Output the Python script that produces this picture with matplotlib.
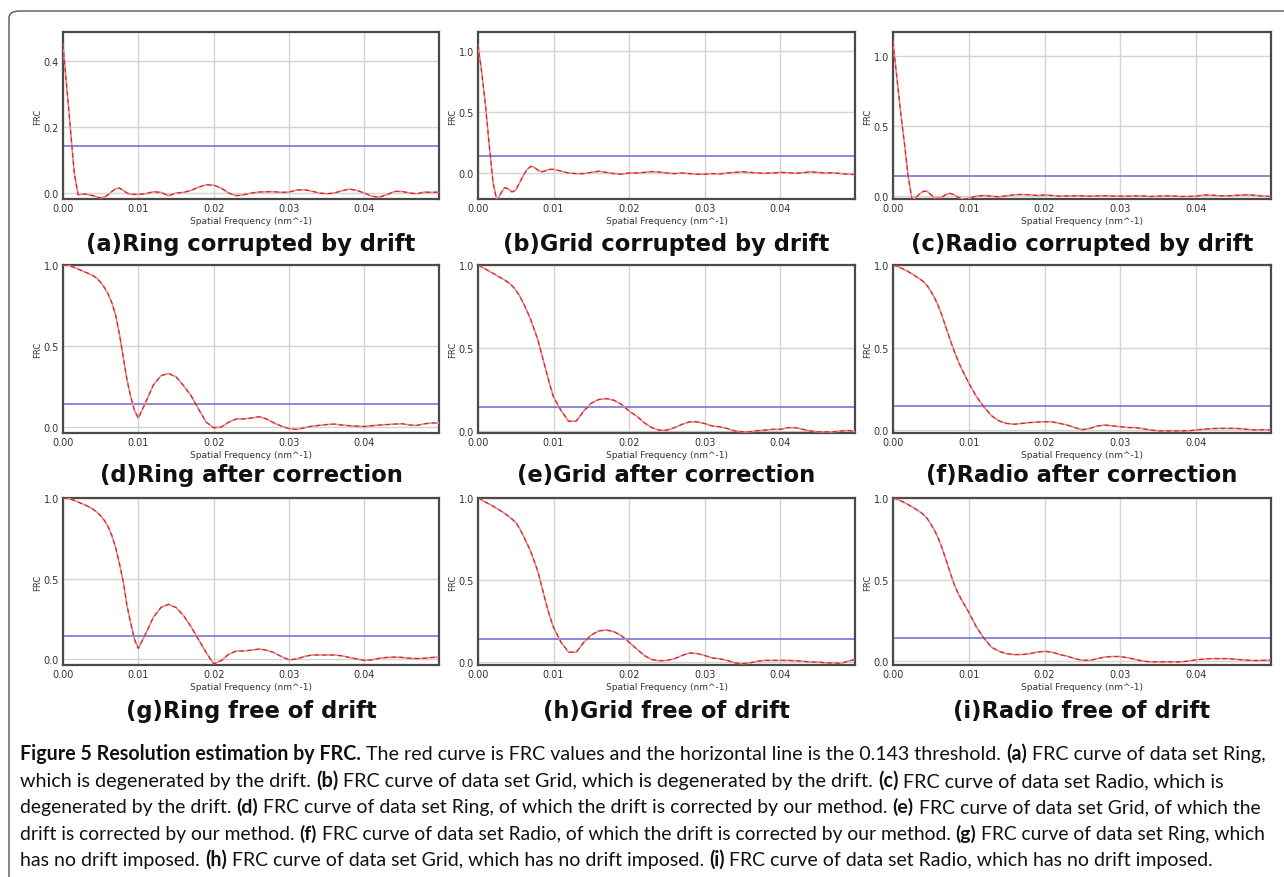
import numpy as np
import matplotlib
matplotlib.use("Agg")
import matplotlib.pyplot as plt
from matplotlib.patches import FancyBboxPatch

# sampling of the spatial frequency axis (nm^-1): fine steps below 0.01
freq = np.r_[np.arange(0, 0.01, 0.0005), np.arange(0.010, 0.0495, 0.001), 0.0499]

threshold = 0.143

ring_drift = [0.45, 0.32, 0.19, 0.06, -0.005, -0.004, -0.003, -0.006, -0.008, -0.012,
              -0.015, -0.012, -0.005, 0.005, 0.013, 0.015, 0.008, 0.0, -0.004, -0.004,
              -0.004, -0.002, 0.004, 0.002, -0.008, 0.0, 0.002, 0.008, 0.018, 0.025,
              0.024, 0.015, 0.0, -0.008, -0.005, 0.0, 0.003, 0.004, 0.004, 0.002,
              0.003, 0.009, 0.01, 0.006, 0.0, -0.002, 0.0, 0.007, 0.012, 0.008,
              0.0, -0.01, -0.012, -0.005, 0.005, 0.005, 0.0, -0.002, 0.003, 0.002,
              0.003]
grid_drift = [1.05, 0.82, 0.55, 0.22, -0.08, -0.225, -0.17, -0.12, -0.13, -0.155,
              -0.14, -0.08, -0.02, 0.03, 0.055, 0.045, 0.02, 0.01, 0.02, 0.03,
              0.03, 0.015, 0.0, -0.005, -0.005, 0.005, 0.015, 0.005, -0.005, -0.01,
              0.0, 0.0, 0.005, 0.012, 0.008, 0.0, -0.005, 0.0, -0.005, -0.01,
              -0.01, -0.005, -0.008, 0.0, 0.005, 0.01, 0.005, 0.0, -0.002, 0.0,
              0.005, 0.003, -0.002, 0.003, 0.01, 0.005, 0.0, 0.002, -0.005, -0.01,
              -0.012]
radio_drift = [1.10, 0.85, 0.60, 0.38, 0.14, -0.02, -0.01, 0.015, 0.035, 0.035,
               0.01, -0.015, -0.015, -0.005, 0.012, 0.02, 0.012, -0.005, -0.018, -0.02,
               -0.015, 0.0, 0.005, 0.0, -0.005, 0.003, 0.01, 0.012, 0.01, 0.005,
               0.008, 0.005, 0.0, 0.002, 0.003, 0.002, 0.0, 0.002, 0.003, 0.001,
               0.0, 0.0, 0.002, 0.001, -0.002, 0.0, 0.002, 0.001, -0.002, -0.002,
               0.0, 0.008, 0.008, 0.003, 0.002, 0.005, 0.008, 0.01, 0.005, 0.0,
               -0.002]
ring_corr = [1.0, 0.998, 0.993, 0.985, 0.975, 0.965, 0.955, 0.945, 0.934, 0.918,
             0.893, 0.86, 0.82, 0.765, 0.687, 0.57, 0.43, 0.29, 0.185, 0.10,
             0.055, 0.155, 0.26, 0.317, 0.33, 0.31, 0.255, 0.193, 0.11, 0.03,
             -0.005, 0.0, 0.03, 0.05, 0.05, 0.055, 0.064, 0.05, 0.025, 0.005,
             -0.01, -0.015, -0.005, 0.005, 0.01, 0.015, 0.018, 0.012, 0.008, 0.005,
             0.003, 0.008, 0.012, 0.015, 0.018, 0.02, 0.012, 0.01, 0.02, 0.025,
             0.025]
grid_corr = [1.0, 0.988, 0.975, 0.962, 0.95, 0.936, 0.923, 0.91, 0.895, 0.875,
             0.85, 0.815, 0.77, 0.722, 0.668, 0.605, 0.537, 0.45, 0.365, 0.28,
             0.204, 0.123, 0.058, 0.06, 0.12, 0.168, 0.19, 0.195, 0.185, 0.16,
             0.12, 0.09, 0.05, 0.02, 0.005, 0.005, 0.02, 0.04, 0.055, 0.055,
             0.045, 0.03, 0.025, 0.015, 0.0, -0.005, -0.005, 0.002, 0.005, 0.01,
             0.01, 0.02, 0.02, 0.01, 0.0, -0.005, -0.005, -0.005, 0.0, 0.003,
             -0.003]
radio_corr = [1.0, 0.992, 0.983, 0.972, 0.96, 0.946, 0.932, 0.917, 0.90, 0.875,
              0.84, 0.8, 0.75, 0.69, 0.62, 0.553, 0.487, 0.43, 0.376, 0.33,
              0.285, 0.204, 0.14, 0.087, 0.055, 0.04, 0.035, 0.04, 0.045, 0.048,
              0.05, 0.05, 0.04, 0.03, 0.015, 0.002, 0.01, 0.025, 0.03, 0.025,
              0.02, 0.015, 0.015, 0.008, 0.0, -0.005, -0.005, -0.005, -0.005, -0.005,
              0.0, 0.005, 0.008, 0.01, 0.01, 0.01, 0.008, 0.003, 0.0, 0.002,
              0.0]
ring_free = [1.0, 0.998, 0.993, 0.985, 0.975, 0.965, 0.955, 0.944, 0.93, 0.912,
             0.89, 0.86, 0.82, 0.765, 0.69, 0.59, 0.48, 0.33, 0.22, 0.12,
             0.066, 0.16, 0.26, 0.32, 0.34, 0.32, 0.27, 0.2, 0.12, 0.04,
             -0.03, -0.01, 0.03, 0.05, 0.05, 0.055, 0.062, 0.055, 0.04, 0.015,
             -0.005, 0.0, 0.015, 0.025, 0.025, 0.025, 0.025, 0.02, 0.01, 0.0,
             -0.008, -0.005, 0.005, 0.01, 0.012, 0.01, 0.005, 0.003, 0.005, 0.01,
             0.012]
grid_free = [1.0, 0.988, 0.975, 0.962, 0.95, 0.936, 0.922, 0.907, 0.89, 0.872,
             0.85, 0.815, 0.77, 0.722, 0.67, 0.608, 0.54, 0.45, 0.36, 0.28,
             0.21, 0.12, 0.06, 0.06, 0.12, 0.165, 0.19, 0.195, 0.185, 0.16,
             0.12, 0.08, 0.04, 0.015, 0.008, 0.01, 0.02, 0.04, 0.055, 0.052,
             0.04, 0.025, 0.02, 0.01, -0.005, -0.01, -0.005, 0.005, 0.01, 0.01,
             0.01, 0.01, 0.008, 0.005, 0.0, 0.0, -0.005, -0.005, -0.008, 0.005,
             0.015]
radio_free = [1.0, 0.992, 0.983, 0.972, 0.96, 0.946, 0.932, 0.917, 0.90, 0.875,
              0.84, 0.8, 0.75, 0.69, 0.62, 0.55, 0.48, 0.425, 0.38, 0.34,
              0.3, 0.21, 0.14, 0.085, 0.06, 0.045, 0.04, 0.04, 0.045, 0.055,
              0.06, 0.055, 0.04, 0.03, 0.015, 0.005, 0.005, 0.015, 0.025, 0.028,
              0.028, 0.02, 0.01, 0.0, -0.005, -0.005, -0.005, -0.005, -0.005, 0.0,
              0.008, 0.012, 0.015, 0.015, 0.015, 0.012, 0.008, 0.005, 0.003, 0.005,
              0.005]

curves = [ring_drift, grid_drift, radio_drift,
          ring_corr, grid_corr, radio_corr,
          ring_free, grid_free, radio_free]
titles = ["(a)Ring corrupted by drift", "(b)Grid corrupted by drift", "(c)Radio corrupted by drift",
          "(d)Ring after correction", "(e)Grid after correction", "(f)Radio after correction",
          "(g)Ring free of drift", "(h)Grid free of drift", "(i)Radio free of drift"]
ylims = [(-0.018, 0.488), (-0.213, 1.156), (-0.02, 1.17),
         (-0.037, 1.0), (-0.012, 1.0), (-0.018, 1.0),
         (-0.037, 1.0), (-0.018, 1.0), (-0.024, 1.0)]
yticks = [[0.0, 0.2, 0.4], [0.0, 0.5, 1.0], [0.0, 0.5, 1.0],
          [0.0, 0.5, 1.0], [0.0, 0.5, 1.0], [0.0, 0.5, 1.0],
          [0.0, 0.5, 1.0], [0.0, 0.5, 1.0], [0.0, 0.5, 1.0]]
xticks = [0.0, 0.01, 0.02, 0.03, 0.04]

caption_lines = [
    [("Figure 5 Resolution estimation by FRC.", True),
     ("The red curve is FRC values and the horizontal line is the 0.143 threshold.", False),
     ("(a)", True), ("FRC curve of data set Ring,", False)],
    [("which is degenerated by the drift.", False), ("(b)", True),
     ("FRC curve of data set Grid, which is degenerated by the drift.", False),
     ("(c)", True), ("FRC curve of data set Radio, which is", False)],
    [("degenerated by the drift.", False), ("(d)", True),
     ("FRC curve of data set Ring, of which the drift is corrected by our method.", False),
     ("(e)", True), ("FRC curve of data set Grid, of which the", False)],
    [("drift is corrected by our method.", False), ("(f)", True),
     ("FRC curve of data set Radio, of which the drift is corrected by our method.", False),
     ("(g)", True), ("FRC curve of data set Ring, which", False)],
    [("has no drift imposed.", False), ("(h)", True),
     ("FRC curve of data set Grid, which has no drift imposed.", False),
     ("(i)", True), ("FRC curve of data set Radio, which has no drift imposed.", False)],
]
# right end of each caption line in the reference (px), last line is ragged
caption_ends = [1265, 1227, 1262, 1265, None]

W, H = 1284, 878
fig = plt.figure(figsize=(W / 100, H / 100), dpi=100)
fig.patch.set_facecolor("white")

# outer rounded frame (open towards bottom/right like the cropped page)
frame = FancyBboxPatch((9 / W, -0.05), 1.2, 1 - 12 / H + 0.05,
                       boxstyle="round,pad=0,rounding_size=0.008",
                       transform=fig.transFigure, fill=False,
                       edgecolor="#555555", lw=1.0, clip_on=False)
fig.patches.append(frame)

col_left = [63, 478, 893]
col_right = [439, 855, 1271]
row_top = [33, 266, 499]
row_bottom = [200, 434, 666]
title_y = [245, 476, 712]

for i, y in enumerate(curves):
    r, c = divmod(i, 3)
    l, rt = col_left[c], col_right[c]
    t, b = row_top[r], row_bottom[r]
    ax = fig.add_axes([l / W, 1 - b / H, (rt - l) / W, (b - t) / H])
    ax.plot(freq, y, color="#ec8a8a", lw=1.2, zorder=3)
    ax.plot(freq, y, color="#c8262b", lw=0.8, dashes=(4, 3), zorder=4)
    ax.axhline(threshold, color="#6a6ad0", lw=1.1, zorder=2)
    ax.set_xlim(0, 0.0499)
    ax.set_ylim(*ylims[i])
    ax.set_xticks(xticks)
    ax.set_xticklabels(["%.2f" % v for v in xticks])
    ax.set_yticks(yticks[i])
    ax.set_yticklabels(["%.1f" % v for v in yticks[i]])
    ax.grid(True, color="#d4d4d4", lw=1.0, zorder=0)
    ax.tick_params(length=0, labelsize=7, colors="#333333", pad=3)
    for s in ax.spines.values():
        s.set_color("#4a4a4a")
        s.set_linewidth(1.6)
    ax.set_xlabel("Spatial Frequency (nm^-1)", fontsize=6.5, color="#333333", labelpad=2)
    ax.set_ylabel("FRC", fontsize=6, color="#333333", labelpad=1)
    fig.text((l + rt) / 2 / W, 1 - title_y[r] / H, titles[i], ha="center", va="center",
             fontsize=16.3, fontweight="bold", family="DejaVu Sans", color="#111111")

# caption with mixed bold / regular runs
renderer = fig.canvas.get_renderer()
cap_font = ["Lato", "DejaVu Sans"]
x_start = 20.0


def text_width(s, size, bold):
    t = fig.text(0, 0, s, fontsize=size, family=cap_font,
                 fontweight="bold" if bold else "normal")
    w = t.get_window_extent(renderer).width
    t.remove()
    return w


def line_width(line, size):
    gap = text_width("x x", size, False) - text_width("xx", size, False)
    return sum(text_width(s, size, b) for s, b in line) + gap * (len(line) - 1)


base = 10.0
sizes = []
for line, end in zip(caption_lines, caption_ends):
    if end is not None:
        sizes.append(base * (end - x_start) / line_width(line, base))
sizes.append(float(np.mean(sizes)))

baselines = [760, 787, 813, 840, 866]
for line, yb, size in zip(caption_lines, baselines, sizes):
    gap = text_width("x x", size, False) - text_width("xx", size, False)
    x = x_start
    for s, bold in line:
        t = fig.text(x / W, 1 - yb / H, s, fontsize=size, family=cap_font,
                     fontweight="bold" if bold else "normal", color="#111111",
                     va="baseline", ha="left")
        x += t.get_window_extent(renderer).width + gap

fig.savefig("out.png", dpi=100, facecolor="white")
